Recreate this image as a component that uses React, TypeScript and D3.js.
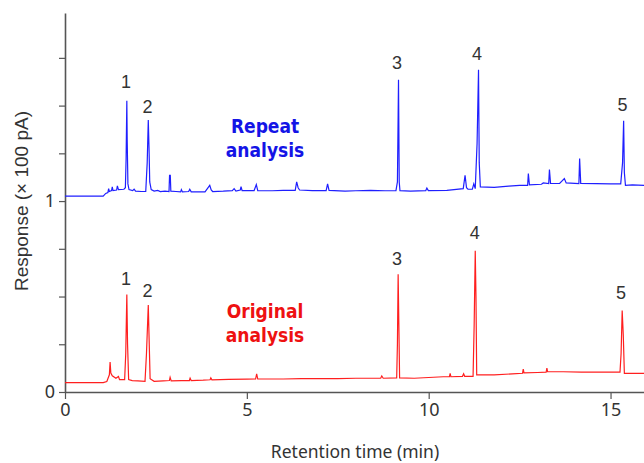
import { useRef, useEffect } from 'react';
import * as d3 from 'd3';

const W = 644;
const H = 463;
const margin = { top: 13, right: 0, bottom: 71, left: 65 };

// x ticks (min) and y ticks (x 100 pA)
const xTicks = [0, 5, 10, 15];
const yTicks = [0, 0.25, 0.5, 0.75, 1, 1.25, 1.5, 1.75];
const yTickLabels: Record<number, string> = { 0: '0', 1: '1' };

// Repeat analysis trace [time, response]
const repeatTrace: [number, number][] = [
  [0, 1.026], [1.05, 1.026], [1.12, 1.04], [1.18, 1.045], [1.2, 1.065], [1.22, 1.05], [1.28, 1.055], [1.3, 1.075],
  [1.32, 1.055], [1.42, 1.058], [1.44, 1.08], [1.47, 1.06], [1.62, 1.062], [1.66, 1.07], [1.68, 1.22],
  [1.70, 1.525], [1.71, 1.32], [1.73, 1.09], [1.76, 1.06], [1.86, 1.055], [1.9, 1.062], [1.94, 1.052],
  [2.1, 1.05], [2.22, 1.05], [2.26, 1.2], [2.29, 1.425], [2.31, 1.28], [2.33, 1.1], [2.37, 1.06],
  [2.45, 1.052], [2.55, 1.056], [2.62, 1.05], [2.75, 1.052], [2.86, 1.05], [2.875, 1.135], [2.895, 1.135],
  [2.91, 1.052], [3.05, 1.05], [3.18, 1.048], [3.2, 1.06], [3.23, 1.048], [3.4, 1.05], [3.43, 1.062],
  [3.47, 1.048], [3.85, 1.048], [3.98, 1.082], [4.02, 1.058], [4.06, 1.05], [4.35, 1.052], [4.6, 1.055],
  [4.65, 1.065], [4.7, 1.052], [4.82, 1.058], [4.84, 1.075], [4.87, 1.055], [5.2, 1.055], [5.26, 1.086],
  [5.3, 1.055], [5.7, 1.054], [6.0, 1.056], [6.33, 1.056], [6.37, 1.1], [6.41, 1.07], [6.45, 1.058],
  [6.8, 1.055], [7.18, 1.055], [7.22, 1.09], [7.26, 1.056], [7.7, 1.052], [8.0, 1.054], [8.4, 1.056],
  [8.8, 1.054], [9.1, 1.055], [9.14, 1.1], [9.16, 1.45], [9.17, 1.636], [9.19, 1.1], [9.21, 1.055],
  [9.5, 1.052], [9.92, 1.055], [9.95, 1.068], [9.99, 1.055], [10.5, 1.056], [10.95, 1.065], [11.0, 1.135],
  [11.04, 1.07], [11.08, 1.062], [11.2, 1.062], [11.24, 1.09], [11.28, 1.065], [11.33, 1.3], [11.37, 1.688],
  [11.39, 1.2], [11.42, 1.074], [11.8, 1.072], [12.2, 1.078], [12.5, 1.082], [12.72, 1.082], [12.74, 1.144],
  [12.77, 1.085], [13.1, 1.088], [13.15, 1.095], [13.3, 1.092], [13.32, 1.165], [13.35, 1.093], [13.6, 1.092],
  [13.73, 1.118], [13.78, 1.095], [14.13, 1.092], [14.15, 1.223], [14.18, 1.093], [14.6, 1.091], [15.0, 1.09],
  [15.28, 1.09], [15.33, 1.2], [15.36, 1.42], [15.38, 1.15], [15.41, 1.082], [15.6, 1.085], [15.92, 1.082],
];

// Original analysis trace [time, response]
const originalTrace: [number, number][] = [
  [0, 0.049], [1.05, 0.049], [1.15, 0.055], [1.22, 0.09], [1.24, 0.157], [1.26, 0.099], [1.3, 0.085],
  [1.4, 0.072], [1.47, 0.081], [1.5, 0.065], [1.64, 0.065], [1.67, 0.2], [1.70, 0.511], [1.72, 0.25],
  [1.75, 0.065], [1.85, 0.06], [2.0, 0.058], [2.2, 0.056], [2.24, 0.2], [2.29, 0.455], [2.31, 0.3],
  [2.34, 0.07], [2.45, 0.056], [2.7, 0.058], [2.87, 0.06], [2.89, 0.077], [2.92, 0.058], [3.2, 0.06],
  [3.42, 0.06], [3.44, 0.072], [3.47, 0.06], [3.8, 0.062], [3.99, 0.064], [4.01, 0.074], [4.04, 0.064],
  [4.5, 0.066], [5.0, 0.067], [5.24, 0.068], [5.27, 0.095], [5.3, 0.068], [6.0, 0.068], [6.5, 0.07],
  [7.0, 0.07], [7.5, 0.07], [8.0, 0.072], [8.5, 0.072], [8.68, 0.072], [8.71, 0.084], [8.75, 0.072],
  [9.12, 0.074], [9.14, 0.25], [9.16, 0.617], [9.18, 0.35], [9.2, 0.074], [9.6, 0.072], [10.0, 0.076],
  [10.4, 0.08], [10.57, 0.08], [10.59, 0.098], [10.61, 0.08], [10.93, 0.082], [10.96, 0.095], [10.99, 0.082],
  [11.22, 0.082], [11.25, 0.35], [11.28, 0.74], [11.3, 0.5], [11.32, 0.09], [11.8, 0.09], [12.3, 0.095],
  [12.58, 0.098], [12.6, 0.12], [12.62, 0.1], [13.0, 0.102], [13.23, 0.104], [13.25, 0.125], [13.27, 0.106],
  [13.7, 0.106], [14.2, 0.104], [15.0, 0.104], [15.26, 0.104], [15.29, 0.2], [15.32, 0.427], [15.35, 0.3],
  [15.38, 0.098], [15.92, 0.098],
];

// peak numbers [label, time, response of label baseline]
const repeatPeaks: [string, number, number][] = [
  ['1', 1.68, 1.59], ['2', 2.27, 1.46], ['3', 9.13, 1.69], ['4', 11.33, 1.74], ['5', 15.33, 1.47],
];
const originalPeaks: [string, number, number][] = [
  ['1', 1.68, 0.56], ['2', 2.27, 0.5], ['3', 9.13, 0.665], ['4', 11.27, 0.8], ['5', 15.29, 0.485],
];

const App = () => {
  const ref = useRef<SVGSVGElement>(null);

  useEffect(() => {
    if (!ref.current) return;
    const svg = d3.select(ref.current);
    svg.selectAll('*').remove();

    const x = d3.scaleLinear().domain([0, 15.92]).range([margin.left, W - margin.right]);
    const y = d3.scaleLinear().domain([0, 1.985]).range([H - margin.bottom, margin.top]);

    const font = "'Liberation Sans', Arial, sans-serif";
    const wideFont = "'Noto Sans', 'Open Sans', sans-serif";
    const axisColor = '#555';
    const textColor = '#333';

    const xAxis = svg.append('g')
      .attr('transform', `translate(0, ${H - margin.bottom})`)
      .call(d3.axisBottom(x).tickValues(xTicks).tickSize(7).tickPadding(4).tickSizeOuter(0).tickFormat(d3.format('d')));
    xAxis.select('.domain').attr('stroke', axisColor).attr('stroke-width', 1.6);
    xAxis.selectAll('.tick line').attr('stroke', axisColor).attr('stroke-width', 1.2);
    xAxis.selectAll('.tick text').attr('fill', textColor).style('font-size', '18px').style('font-family', wideFont);

    const yAxis = svg.append('g')
      .attr('transform', `translate(${margin.left}, 0)`)
      .call(d3.axisLeft(y).tickValues(yTicks).tickSize(6).tickPadding(4).tickSizeOuter(0)
        .tickFormat((d) => yTickLabels[d as number] ?? ''));
    yAxis.select('.domain').attr('stroke', axisColor).attr('stroke-width', 1.6);
    yAxis.selectAll('.tick line').attr('stroke', axisColor).attr('stroke-width', 1.2);
    yAxis.selectAll('.tick text').attr('fill', textColor).style('font-size', '18px').style('font-family', wideFont);

    const line = d3.line<[number, number]>().x((d) => x(d[0])).y((d) => y(d[1]));

    svg.append('path').datum(originalTrace)
      .attr('d', line).attr('fill', 'none').attr('stroke', '#ff1f1f').attr('stroke-width', 1.2);
    svg.append('path').datum(repeatTrace)
      .attr('d', line).attr('fill', 'none').attr('stroke', '#1f1fff').attr('stroke-width', 1.2);

    const peakLabels = (peaks: [string, number, number][]) => {
      svg.append('g').selectAll('text').data(peaks).enter().append('text')
        .attr('x', (d) => x(d[1]))
        .attr('y', (d) => y(d[2]))
        .attr('text-anchor', 'middle')
        .attr('fill', textColor)
        .style('font-size', '18px')
        .style('font-family', font)
        .text((d) => d[0]);
    };
    peakLabels(repeatPeaks);
    peakLabels(originalPeaks);

    const note = (lines: string[], cx: number, y0: number, color: string) => {
      svg.append('text')
        .attr('text-anchor', 'middle')
        .attr('fill', color)
        .style('font-size', '19px')
        .style('font-weight', 'bold')
        .style('font-family', "'DejaVu Sans Condensed', 'Liberation Sans Narrow', sans-serif")
        .selectAll('tspan').data(lines).enter().append('tspan')
        .attr('x', cx)
        .attr('y', (_, i) => y0 + i * 24)
        .text((d) => d);
    };
    note(['Repeat', 'analysis'], x(5.5), 133, '#1414e6');
    note(['Original', 'analysis'], x(5.5), 318, '#ee1111');

    svg.append('text')
      .attr('x', 355)
      .attr('y', 458)
      .attr('text-anchor', 'middle')
      .attr('fill', textColor)
      .style('font-size', '17.5px')
      .style('font-family', wideFont)
      .text('Retention time (min)');

    svg.append('text')
      .attr('transform', `translate(28, 201) rotate(-90)`)
      .attr('text-anchor', 'middle')
      .attr('fill', textColor)
      .style('font-size', '19px')
      .style('font-family', font)
      .text('Response (× 100 pA)');
  }, []);

  return (
    <svg ref={ref} width={W} height={H} style={{ position: 'absolute', left: 0, top: 0, background: '#fff' }} />
  );
};

export default App;
